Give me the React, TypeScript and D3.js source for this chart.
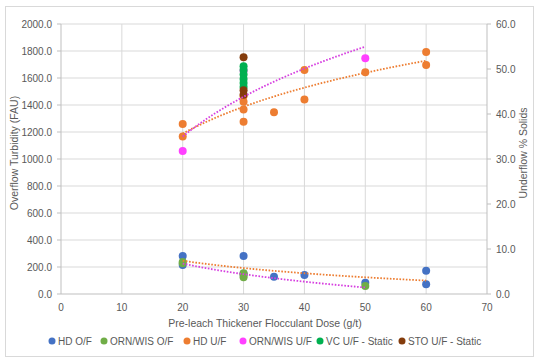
import React from 'react';
import * as d3 from 'd3';

// Overflow turbidity (left axis, FAU)
const hdOfX = [20, 20, 30, 30, 35, 40, 50, 60, 60];
const hdOfY = [281, 215, 281, 150, 128, 141, 84, 173, 72];
const ornOfX = [20, 20, 30, 30, 30, 50];
const ornOfY = [237, 228, 153, 140, 124, 59];

// Underflow % solids (right axis)
const hdUfX = [20, 20, 30, 30, 30, 30, 35, 40, 40, 50, 60, 60];
const hdUfY = [37.8, 35.0, 44.0, 42.7, 41.0, 38.3, 40.4, 49.8, 43.2, 49.3, 53.8, 50.9];
const ornUfX = [20, 30, 50];
const ornUfY = [31.8, 49.6, 52.4];
const vcX = [30, 30, 30, 30, 30, 30];
const vcY = [50.6, 49.8, 48.8, 47.8, 46.9, 46.0];
const stoX = [30, 30, 30];
const stoY = [52.6, 45.3, 44.3];

const xTicks = [0, 10, 20, 30, 40, 50, 60, 70];
const leftTicks = [0, 200, 400, 600, 800, 1000, 1200, 1400, 1600, 1800, 2000];
const rightTicks = [0, 10, 20, 30, 40, 50, 60];

const legendItems = [
  { label: 'HD O/F', color: '#4472C4', x: 52 },
  { label: 'ORN/WIS O/F', color: '#70AD47', x: 104 },
  { label: 'HD U/F', color: '#ED7D31', x: 187 },
  { label: 'ORN/WIS U/F', color: '#FF40FF', x: 243 },
  { label: 'VC U/F - Static', color: '#00B050', x: 320 },
  { label: 'STO U/F - Static', color: '#843C0C', x: 402 },
];

const font = 'Liberation Sans, Arial, sans-serif';
const grey = '#595959';

// least squares fit of y = a + b ln(x), like Excel's logarithmic trendline
function logFit(xs: number[], ys: number[]) {
  const lx = xs.map(Math.log);
  const mx = d3.mean(lx)!;
  const my = d3.mean(ys)!;
  const sxy = d3.sum(lx, (v, i) => (v - mx) * (ys[i] - my));
  const sxx = d3.sum(lx, v => (v - mx) ** 2);
  const b = sxy / sxx;
  const a = my - b * mx;
  const [x0, x1] = d3.extent(xs) as [number, number];
  return d3.range(0, 41).map(i => {
    const x = x0 + ((x1 - x0) * i) / 40;
    return [x, a + b * Math.log(x)] as [number, number];
  });
}

export default function App() {
  const left = 61, right = 487, top = 24, bottom = 294;
  const x = d3.scaleLinear().domain([0, 70]).range([left, right]);
  const yL = d3.scaleLinear().domain([0, 2000]).range([bottom, top]);
  const yR = d3.scaleLinear().domain([0, 60]).range([bottom, top]);

  const lineL = d3.line<[number, number]>().x(d => x(d[0])).y(d => yL(d[1])).curve(d3.curveMonotoneX);
  const lineR = d3.line<[number, number]>().x(d => x(d[0])).y(d => yR(d[1])).curve(d3.curveMonotoneX);

  const dots = (xs: number[], ys: number[], sc: d3.ScaleLinear<number, number>, color: string, key: string) =>
    xs.map((v, i) => (
      <circle key={key + i} cx={x(v)} cy={sc(ys[i])} r={4} fill={color} />
    ));

  const trendStyle = { fill: 'none', strokeWidth: 1.8, strokeDasharray: '1.6 1.6' };

  return (
    <svg width={539} height={363} style={{ position: 'absolute', left: 0, top: 0, background: '#fff' }}>
      <rect x={5.5} y={6.5} width={528} height={350} fill="#fff" stroke="#D9D9D9" />

      {/* gridlines */}
      {xTicks.slice(1, -1).map(t => (
        <line key={'gx' + t} x1={x(t)} x2={x(t)} y1={top} y2={bottom} stroke="#D9D9D9" />
      ))}
      {leftTicks.slice(1).map(t => (
        <line key={'gy' + t} x1={left} x2={right} y1={yL(t)} y2={yL(t)} stroke="#D9D9D9" />
      ))}

      {/* axes */}
      <line x1={left} x2={left} y1={top} y2={bottom} stroke="#BFBFBF" />
      <line x1={right} x2={right} y1={top} y2={bottom} stroke="#BFBFBF" />
      <line x1={left} x2={right} y1={bottom} y2={bottom} stroke="#BFBFBF" />
      {leftTicks.map(t => (
        <line key={'lt' + t} x1={left - 4} x2={left} y1={yL(t)} y2={yL(t)} stroke="#BFBFBF" />
      ))}
      {rightTicks.map(t => (
        <line key={'rt' + t} x1={right} x2={right + 4} y1={yR(t)} y2={yR(t)} stroke="#BFBFBF" />
      ))}

      {/* tick labels */}
      <g fontFamily={font} fontSize={10} fill={grey}>
        {leftTicks.map(t => (
          <text key={'ll' + t} x={52} y={yL(t)} dy="0.35em" textAnchor="end">{t.toFixed(1)}</text>
        ))}
        {rightTicks.map(t => (
          <text key={'rl' + t} x={496} y={yR(t)} dy="0.35em">{t.toFixed(1)}</text>
        ))}
        {xTicks.map(t => (
          <text key={'xl' + t} x={x(t)} y={311} textAnchor="middle">{t}</text>
        ))}
      </g>

      {/* axis titles */}
      <g fontFamily={font} fontSize={10.5} fill={grey}>
        <text x={265} y={327} textAnchor="middle">Pre-leach Thickener Flocculant Dose (g/t)</text>
        <text transform="translate(18,153) rotate(-90)" textAnchor="middle">Overflow Turbidity (FAU)</text>
        <text transform="translate(527,153) rotate(-90)" textAnchor="middle">Underflow % Solids</text>
      </g>

      {/* markers */}
      {dots(hdOfX, hdOfY, yL, '#4472C4', 'a')}
      {dots(ornOfX, ornOfY, yL, '#70AD47', 'b')}
      {dots(hdUfX, hdUfY, yR, '#ED7D31', 'c')}
      {dots(ornUfX, ornUfY, yR, '#FF40FF', 'd')}
      {dots(vcX, vcY, yR, '#00B050', 'e')}
      {dots(stoX, stoY, yR, '#843C0C', 'f')}

      {/* trendlines */}
      <path d={lineL(logFit(hdOfX, hdOfY)) || ''} stroke="#ED7D31" style={trendStyle} />
      <path d={lineL(logFit(ornOfX, ornOfY)) || ''} stroke="#D63FE0" style={trendStyle} />
      <path d={lineR(logFit(hdUfX, hdUfY)) || ''} stroke="#ED7D31" style={trendStyle} />
      <path d={lineR(logFit(ornUfX, ornUfY)) || ''} stroke="#D63FE0" style={trendStyle} />

      {/* legend */}
      <g fontFamily={font} fontSize={10} fill={grey}>
        {legendItems.map(it => (
          <g key={it.label}>
            <circle cx={it.x} cy={341} r={3.5} fill={it.color} />
            <text x={it.x + 6} y={341} dy="0.35em">{it.label}</text>
          </g>
        ))}
      </g>
    </svg>
  );
}
